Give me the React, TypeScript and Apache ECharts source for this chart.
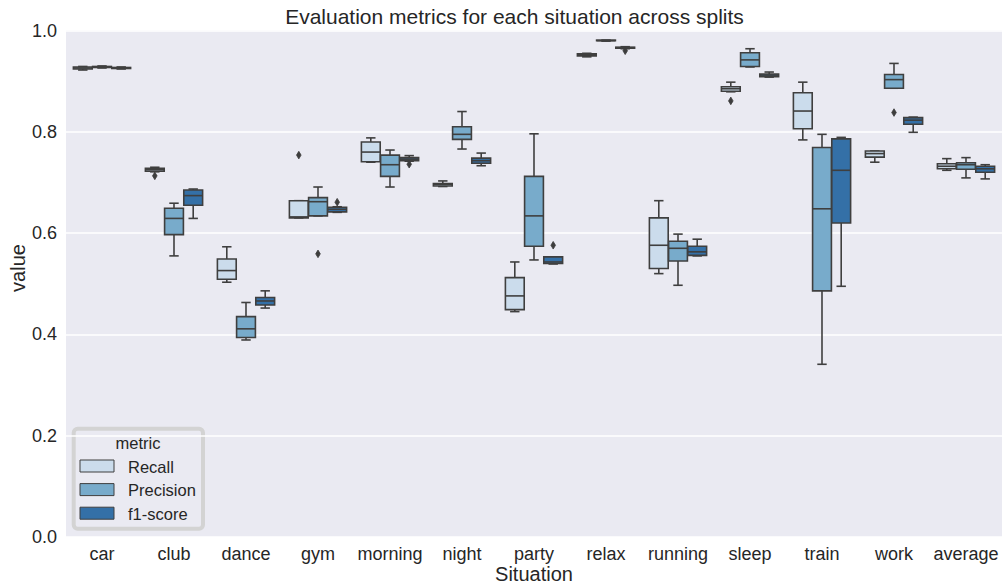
import React, { useEffect, useRef } from "react";
import * as echarts from "echarts";

const categories = ["car", "club", "dance", "gym", "morning", "night", "party", "relax", "running", "sleep", "train", "work", "average"];
const metrics = ["Recall", "Precision", "f1-score"];
const colors = ["#cbdcec", "#78abcb", "#3470a7"];
const yTicks = [0, 0.2, 0.4, 0.6, 0.8, 1.0];

// [low whisker, q1, median, q3, high whisker] per category
const recall = [
  [0.922, 0.924, 0.926, 0.928, 0.929],
  [0.721, 0.722, 0.725, 0.728, 0.730],
  [0.503, 0.509, 0.526, 0.549, 0.573],
  [0.630, 0.630, 0.632, 0.664, 0.664],
  [0.740, 0.741, 0.760, 0.780, 0.788],
  [0.692, 0.693, 0.696, 0.698, 0.703],
  [0.445, 0.449, 0.476, 0.512, 0.543],
  [0.948, 0.950, 0.952, 0.954, 0.955],
  [0.520, 0.530, 0.576, 0.630, 0.664],
  [0.879, 0.880, 0.885, 0.889, 0.898],
  [0.784, 0.806, 0.841, 0.877, 0.898],
  [0.740, 0.750, 0.757, 0.762, 0.762],
  [0.724, 0.727, 0.732, 0.737, 0.747],
];
const precision = [
  [0.926, 0.927, 0.928, 0.929, 0.930],
  [0.555, 0.597, 0.629, 0.649, 0.659],
  [0.389, 0.394, 0.411, 0.435, 0.463],
  [0.634, 0.634, 0.662, 0.670, 0.691],
  [0.691, 0.712, 0.735, 0.754, 0.764],
  [0.766, 0.785, 0.795, 0.810, 0.840],
  [0.547, 0.574, 0.634, 0.712, 0.796],
  [0.979, 0.980, 0.980, 0.981, 0.981],
  [0.497, 0.545, 0.570, 0.584, 0.598],
  [0.928, 0.929, 0.942, 0.956, 0.964],
  [0.341, 0.486, 0.648, 0.769, 0.795],
  [0.886, 0.886, 0.903, 0.913, 0.935],
  [0.709, 0.726, 0.735, 0.739, 0.749],
];
const f1score = [
  [0.924, 0.925, 0.926, 0.927, 0.928],
  [0.629, 0.655, 0.674, 0.685, 0.687],
  [0.452, 0.458, 0.466, 0.473, 0.486],
  [0.641, 0.642, 0.647, 0.651, 0.652],
  [0.742, 0.743, 0.746, 0.749, 0.753],
  [0.733, 0.738, 0.743, 0.748, 0.758],
  [0.539, 0.540, 0.543, 0.553, 0.553],
  [0.964, 0.965, 0.966, 0.967, 0.968],
  [0.555, 0.556, 0.563, 0.574, 0.588],
  [0.908, 0.909, 0.912, 0.914, 0.918],
  [0.495, 0.620, 0.724, 0.786, 0.789],
  [0.799, 0.815, 0.823, 0.828, 0.829],
  [0.707, 0.720, 0.727, 0.732, 0.735],
];
// [category index, value]
const recallOutliers = [[1, 0.713], [3, 0.754], [9, 0.861]];
const precisionOutliers = [[3, 0.559], [11, 0.838]];
const f1Outliers = [[3, 0.661], [4, 0.736], [6, 0.576], [7, 0.960]];

const boxData = [recall, precision, f1score];
const outlierData = [recallOutliers, precisionOutliers, f1Outliers];

const FONT = "'Liberation Sans', Arial, sans-serif";
const TEXT = "#262626";
const LINE = "#3f3f3f";

export default function App() {
  const ref = useRef<HTMLDivElement>(null);
  useEffect(() => {
    if (!ref.current) return;
    const chart = echarts.init(ref.current, undefined, { renderer: "svg" });

    const boxSeries = boxData.map((arr, k) => ({
      type: "custom",
      name: metrics[k],
      z: 3,
      encode: { x: 0, y: [1, 2, 3, 4, 5] },
      data: arr.map((d, i) => [i, ...d]),
      renderItem: (params: any, api: any) => {
        const idx = api.value(0);
        const band = api.size([1, 0])[0];
        const bw = (band * 0.8) / 3;
        const cx = api.coord([idx, 0])[0] + (k - 1) * bw;
        const w = bw * 0.98;
        const yl = api.coord([idx, api.value(1)])[1];
        const y1 = api.coord([idx, api.value(2)])[1];
        const ym = api.coord([idx, api.value(3)])[1];
        const y3 = api.coord([idx, api.value(4)])[1];
        const yh = api.coord([idx, api.value(5)])[1];
        const cap = w / 4;
        const ls = { stroke: LINE, lineWidth: 1.6 };
        return {
          type: "group",
          children: [
            { type: "line", shape: { x1: cx, y1: y1, x2: cx, y2: yl }, style: ls },
            { type: "line", shape: { x1: cx, y1: y3, x2: cx, y2: yh }, style: ls },
            { type: "line", shape: { x1: cx - cap, y1: yl, x2: cx + cap, y2: yl }, style: ls },
            { type: "line", shape: { x1: cx - cap, y1: yh, x2: cx + cap, y2: yh }, style: ls },
            {
              type: "rect",
              shape: { x: cx - w / 2, y: y3, width: w, height: Math.max(y1 - y3, 0.5) },
              style: { fill: colors[k], stroke: LINE, lineWidth: 1.6 },
            },
            { type: "line", shape: { x1: cx - w / 2, y1: ym, x2: cx + w / 2, y2: ym }, style: ls },
          ],
        };
      },
    }));

    const outSeries = outlierData.map((arr, k) => ({
      type: "custom",
      name: metrics[k] + " outliers",
      z: 4,
      encode: { x: 0, y: 1 },
      data: arr,
      renderItem: (params: any, api: any) => {
        const idx = api.value(0);
        const band = api.size([1, 0])[0];
        const bw = (band * 0.8) / 3;
        const p = api.coord([idx, api.value(1)]);
        const cx = p[0] + (k - 1) * bw;
        const cy = p[1];
        const hw = 2.3;
        const hh = 3.8;
        return {
          type: "polygon",
          shape: { points: [[cx, cy - hh], [cx + hw, cy], [cx, cy + hh], [cx - hw, cy]] },
          style: { fill: "#3d3d3d", stroke: "#3d3d3d", lineWidth: 0.8 },
        };
      },
    }));

    const legendChildren: any[] = [
      {
        type: "rect",
        shape: { x: 73.7, y: 428.7, width: 129.3, height: 100, r: 4 },
        style: { fill: "#eaeaf2", stroke: "#d3d3d3", lineWidth: 4 },
      },
      {
        type: "text",
        x: 138,
        y: 443,
        style: { text: "metric", font: `16.5px ${FONT}`, fill: TEXT, align: "center", verticalAlign: "middle" },
      },
    ];
    metrics.forEach((m, k) => {
      const yTop = 460 + k * 23.6;
      legendChildren.push({
        type: "rect",
        shape: { x: 80, y: yTop, width: 34, height: 12 },
        style: { fill: colors[k], stroke: LINE, lineWidth: 1 },
      });
      legendChildren.push({
        type: "text",
        x: 128,
        y: yTop + 6.5,
        style: { text: m, font: `16.5px ${FONT}`, fill: TEXT, align: "left", verticalAlign: "middle" },
      });
    });

    chart.setOption({
      animation: false,
      textStyle: { fontFamily: FONT },
      grid: {
        left: 66,
        right: 0,
        top: 30.5,
        bottom: 47,
        show: true,
        backgroundColor: "#eaeaf2",
        borderWidth: 0,
      },
      xAxis: {
        type: "category",
        data: categories,
        boundaryGap: true,
        axisLine: { show: false },
        axisTick: { show: false },
        splitLine: { show: false },
        axisLabel: { fontSize: 18, color: TEXT, margin: 8, fontFamily: FONT, interval: 0 },
      },
      yAxis: {
        type: "value",
        min: yTicks[0],
        max: yTicks[yTicks.length - 1],
        interval: 0.2,
        axisLine: { show: false },
        axisTick: { show: false },
        splitLine: { lineStyle: { color: "#ffffff", width: 1.5 } },
        axisLabel: { fontSize: 18, color: TEXT, margin: 9, fontFamily: FONT, formatter: (v: number) => v.toFixed(1) },
      },
      series: [...boxSeries, ...outSeries],
      graphic: [
        {
          type: "text",
          x: 514.5,
          y: 16.5,
          style: {
            text: "Evaluation metrics for each situation across splits",
            font: `21px ${FONT}`,
            fill: TEXT,
            align: "center",
            verticalAlign: "middle",
          },
        },
        {
          type: "text",
          x: 534,
          y: 574,
          style: { text: "Situation", font: `20px ${FONT}`, fill: TEXT, align: "center", verticalAlign: "middle" },
        },
        {
          type: "text",
          x: 18,
          y: 268,
          rotation: Math.PI / 2,
          style: { text: "value", font: `20px ${FONT}`, fill: TEXT, align: "center", verticalAlign: "middle" },
        },
        { type: "group", z: 100, children: legendChildren },
      ],
    });
    return () => chart.dispose();
  }, []);
  return <div ref={ref} style={{ position: "fixed", left: 0, top: 0, width: 1002, height: 584, background: "#fff" }} />;
}
